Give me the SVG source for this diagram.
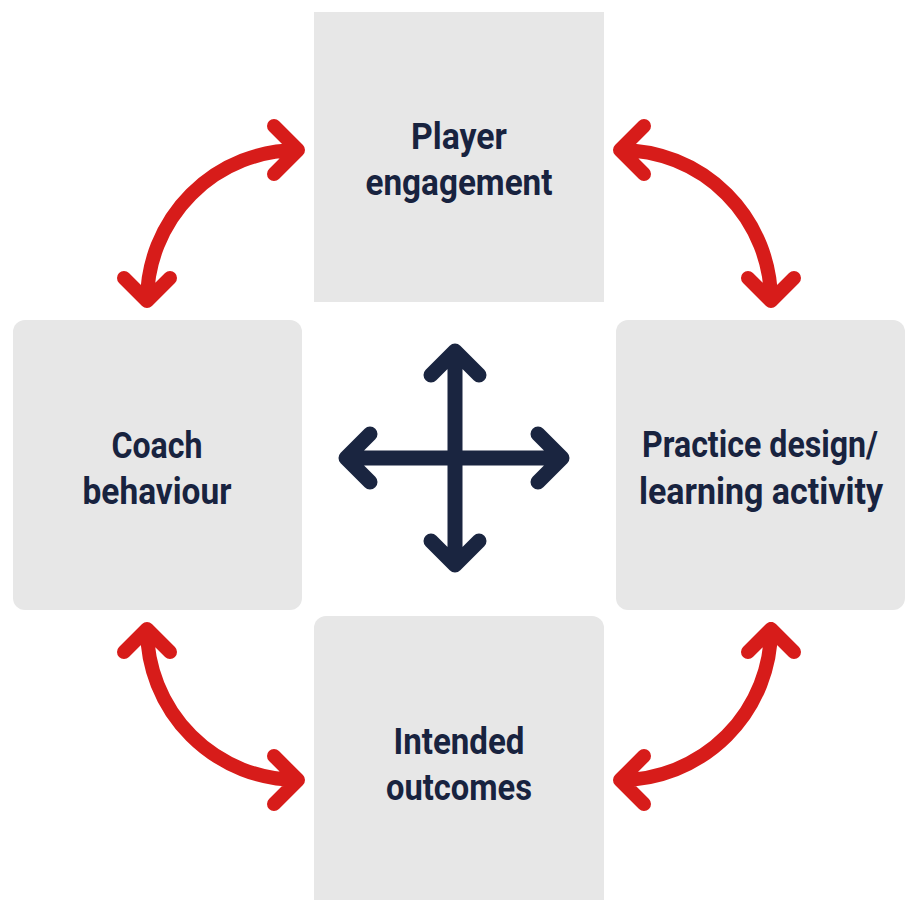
<svg xmlns="http://www.w3.org/2000/svg" width="908" height="900" viewBox="0 0 908 900">
<style>
.box{fill:#e7e7e7}
.lbl{font-family:Roboto,"Liberation Sans",sans-serif;font-weight:700;font-size:37px;fill:#18233f;text-anchor:middle}
.red{fill:none;stroke:#d71c1a;stroke-width:14;stroke-linecap:round;stroke-linejoin:round}
.navy{fill:none;stroke:#1a2540;stroke-width:15;stroke-linecap:round;stroke-linejoin:round}
</style>
<rect width="908" height="900" fill="#ffffff"/>
<g id="node-player">
<rect class="box" x="314" y="12" width="290" height="290"/>
<text class="lbl" x="459" y="149" textLength="96" lengthAdjust="spacingAndGlyphs">Player</text>
<text class="lbl" x="459" y="195" textLength="187" lengthAdjust="spacingAndGlyphs">engagement</text>
</g>
<g id="node-coach">
<rect class="box" x="13" y="320" width="289" height="290" rx="12"/>
<text class="lbl" x="157" y="458" textLength="91" lengthAdjust="spacingAndGlyphs">Coach</text>
<text class="lbl" x="157" y="504" textLength="149" lengthAdjust="spacingAndGlyphs">behaviour</text>
</g>
<g id="node-practice">
<rect class="box" x="616" y="320" width="289" height="290" rx="12"/>
<text class="lbl" x="760" y="457" textLength="236" lengthAdjust="spacingAndGlyphs">Practice design/</text>
<text class="lbl" x="761" y="504" textLength="244" lengthAdjust="spacingAndGlyphs">learning activity</text>
</g>
<g id="node-outcomes">
<rect class="box" x="314" y="616" width="290" height="300" rx="12"/>
<text class="lbl" x="459" y="754" textLength="131" lengthAdjust="spacingAndGlyphs">Intended</text>
<text class="lbl" x="459" y="800" textLength="146" lengthAdjust="spacingAndGlyphs">outcomes</text>
</g>
<g id="connectors">
<path class="red" d="M147,301 A151,151 0 0 1 298,150 M274,126 L298,150 L274,174 M124,278 L147,301 L170,278"/>
<path class="red" d="M771,301 A151,151 0 0 0 620,150 M644,126 L620,150 L644,174 M794,278 L771,301 L748,278"/>
<path class="red" d="M147,629 A151,151 0 0 0 298,780 M274,804 L298,780 L274,756 M124,652 L147,629 L170,652"/>
<path class="red" d="M771,629 A151,151 0 0 1 620,780 M644,804 L620,780 L644,756 M794,652 L771,629 L748,652"/>
<path class="navy" d="M455,351 L455,565 M346,458 L562,458 M431,375 L455,351 L479,375 M431,541 L455,565 L479,541 M370,434 L346,458 L370,482 M538,434 L562,458 L538,482"/>
</g>
</svg>
